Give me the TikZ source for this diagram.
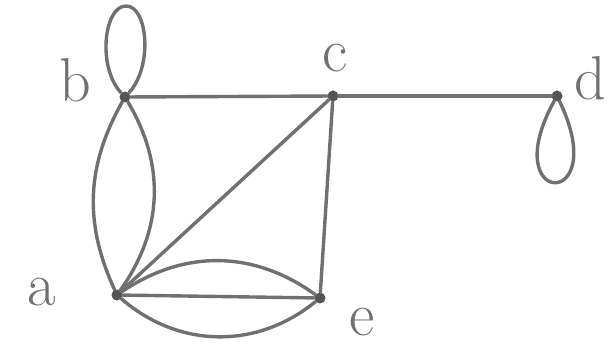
\documentclass[tikz,border=0pt]{standalone}
\usepackage{tikz}
\usetikzlibrary{positioning, calc}
\definecolor{colorpencil}{HTML}{707070}
\definecolor{colordot}{HTML}{555555}

\begin{document}
\begin{tikzpicture}[
    x=1pt, y=-1pt,
    % Pencil-like strokes
    vertex/.style={
        circle,
        fill=colordot,
        inner sep=0pt,
        minimum size=11pt
    },
    vlabel/.style={
        text=colorpencil,
        font=\fontsize{62}{62}\selectfont,
        inner sep=0pt
    },
    edge/.style={
        draw=colorpencil,
        line width=3.4pt,
        line cap=round
    }
]
\useasboundingbox (0,0) rectangle (614,350);

% ==============================
% Vertices
% ==============================
\node[vertex] (b) at (125,97) {};
\node[vertex] (c) at (333,96) {};
\node[vertex] (d) at (557,96) {};
\node[vertex] (a) at (117,295) {};
\node[vertex] (e) at (320,298) {};

% ==============================
% Labels
% ==============================
\node[vlabel] (lb) at (75,80) {b};
\node[vlabel] (lc) at (335,58) {c};
\node[vlabel] (ld) at (590,78) {d};
\node[vlabel] (la) at (42,292) {a};
\node[vlabel] (le) at (362,322) {e};

% ==============================
% Edges
% ==============================
\draw[edge] (b) -- (c);
\draw[edge] (c) -- (d);
\draw[edge] (a) -- (c);
\draw[edge] (c) -- (e);
\draw[edge] (a) -- (e);

% Parallel edges a--b and a--e
\draw[edge] (a) to[bend left=27] (b);
\draw[edge] (a) to[bend right=33] (b);
\draw[edge] (a) to[bend left=35] (e);
\draw[edge] (a) to[bend right=40] (e);

% Loops at b and d
\draw[edge] (b) .. controls +(-28,-30) and +(-22,0) .. ($(b)+(1,-91)$)
                .. controls +(22,0) and +(28,-30) .. (b);
\draw[edge] (d) .. controls +(-62,112) and +(56,116) .. (d);

\end{tikzpicture}
\end{document}
